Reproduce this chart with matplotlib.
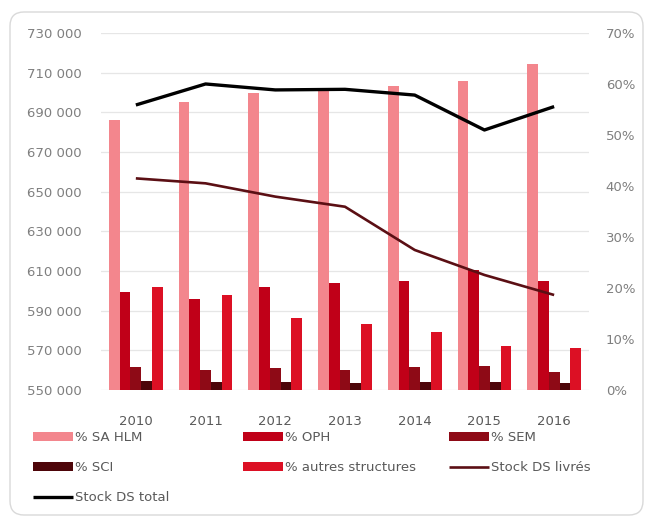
import matplotlib
matplotlib.use("Agg")
import matplotlib.pyplot as plt
from matplotlib.patches import FancyBboxPatch
import numpy as np

years = ["2010", "2011", "2012", "2013", "2014", "2015", "2016"]
pct_sa_hlm = [52.9, 56.5, 58.2, 58.8, 59.6, 60.5, 63.9]
pct_oph = [19.3, 17.8, 20.1, 21.0, 21.4, 23.5, 21.4]
pct_sem = [4.6, 3.9, 4.4, 3.9, 4.6, 4.7, 3.6]
pct_sci = [1.8, 1.5, 1.5, 1.3, 1.5, 1.5, 1.4]
pct_autres = [20.1, 18.6, 14.1, 12.9, 11.4, 8.7, 8.2]
stock_livres = [656700, 654200, 647500, 642400, 620600, 608000, 597900]
stock_total = [693700, 704300, 701300, 701600, 698700, 681100, 692900]

left_ticks = [550000, 570000, 590000, 610000, 630000, 650000, 670000, 690000, 710000, 730000]
right_ticks = [0, 10, 20, 30, 40, 50, 60, 70]

bar_series = [
    ("% SA HLM", pct_sa_hlm, "#F3868D"),
    ("% OPH", pct_oph, "#C00018"),
    ("% SEM", pct_sem, "#8E0A16"),
    ("% SCI", pct_sci, "#4D0509"),
    ("% autres structures", pct_autres, "#DC1024"),
]

plt.rcParams['font.family'] = ['DejaVu Sans']
FS = 9.5
GRAY = "#7F7F7F"

fig = plt.figure(figsize=(6.46, 5.22), dpi=100)
fig.patch.set_facecolor("white")

# chart frame
frame = FancyBboxPatch((0.10, 0.07), 6.33, 5.03,
                       boxstyle="round,pad=0,rounding_size=0.14",
                       transform=fig.dpi_scale_trans, facecolor="white",
                       edgecolor="#D9D9D9", linewidth=1.0, zorder=-5)
fig.patches.append(frame)

pos = [101/646, 1-390/522, 488/646, 357/522]
# background axes holding only the gridlines of the left scale
axg = fig.add_axes(pos)
axg.set_zorder(0)
axg.set_ylim(550000, 730000)
axg.set_yticks(left_ticks)
axg.yaxis.grid(True, color="#E6E6E6", lw=0.9)
axg.set_xticks([])
axg.tick_params(axis="y", length=0, labelleft=False)
for s in axg.spines.values():
    s.set_visible(False)
axg.patch.set_visible(False)

ax = fig.add_axes(pos)    # lines (left axis)
ax2 = ax.twinx()          # bars (right axis)
ax.set_zorder(2)
ax2.set_zorder(1)
ax.patch.set_visible(False)
ax2.patch.set_visible(False)

x = np.arange(len(years))
bw = 0.154
handles = {}
for i, (name, vals, col) in enumerate(bar_series):
    off = (i - 2) * bw
    b = ax2.bar(x + off, vals, width=bw, color=col, label=name, zorder=2)
    handles[name] = b

l1, = ax.plot(x, stock_livres, color="#5B0F14", lw=1.9, label="Stock DS livrés",
              solid_capstyle="butt")
l2, = ax.plot(x, stock_total, color="#000000", lw=2.4, label="Stock DS total",
              solid_capstyle="butt")
handles["Stock DS livrés"] = l1
handles["Stock DS total"] = l2

ax.set_xlim(-0.5, len(years) - 0.5)
ax2.set_xlim(-0.5, len(years) - 0.5)
ax.set_ylim(550000, 730000)
ax2.set_ylim(0, 70)
ax.set_yticks(left_ticks)
ax.set_yticklabels([f"{v:,}".replace(",", " ") for v in left_ticks])
ax2.set_yticks(right_ticks)
ax2.set_yticklabels([f"{v}%" for v in right_ticks])
ax.set_xticks(x)
ax.set_xticklabels(years)

for a in (ax, ax2):
    for s in a.spines.values():
        s.set_visible(False)
    a.tick_params(axis="both", length=0, labelsize=FS, labelcolor="#595959")
ax.tick_params(axis="y", pad=14, labelcolor=GRAY)
ax2.tick_params(axis="y", pad=12, labelcolor=GRAY)
ax.tick_params(axis="x", pad=18, labelcolor="#595959")

# legend, laid out in three columns like the original
cols = [
    (33/646, ["% SA HLM", "% SCI", "Stock DS total"]),
    (243/646, ["% OPH", "% autres structures"]),
    (449/646, ["% SEM", "Stock DS livrés"]),
]
for xpos, names in cols:
    fig.legend([handles[n] for n in names], names, loc="upper left",
               bbox_to_anchor=(xpos, 1 - 431/522), frameon=False,
               fontsize=FS, labelcolor="#595959", borderpad=0, borderaxespad=0,
               handlelength=3.0, handleheight=0.65, handletextpad=0.15,
               labelspacing=1.3)

fig.savefig("out.png", dpi=100, facecolor="white")
